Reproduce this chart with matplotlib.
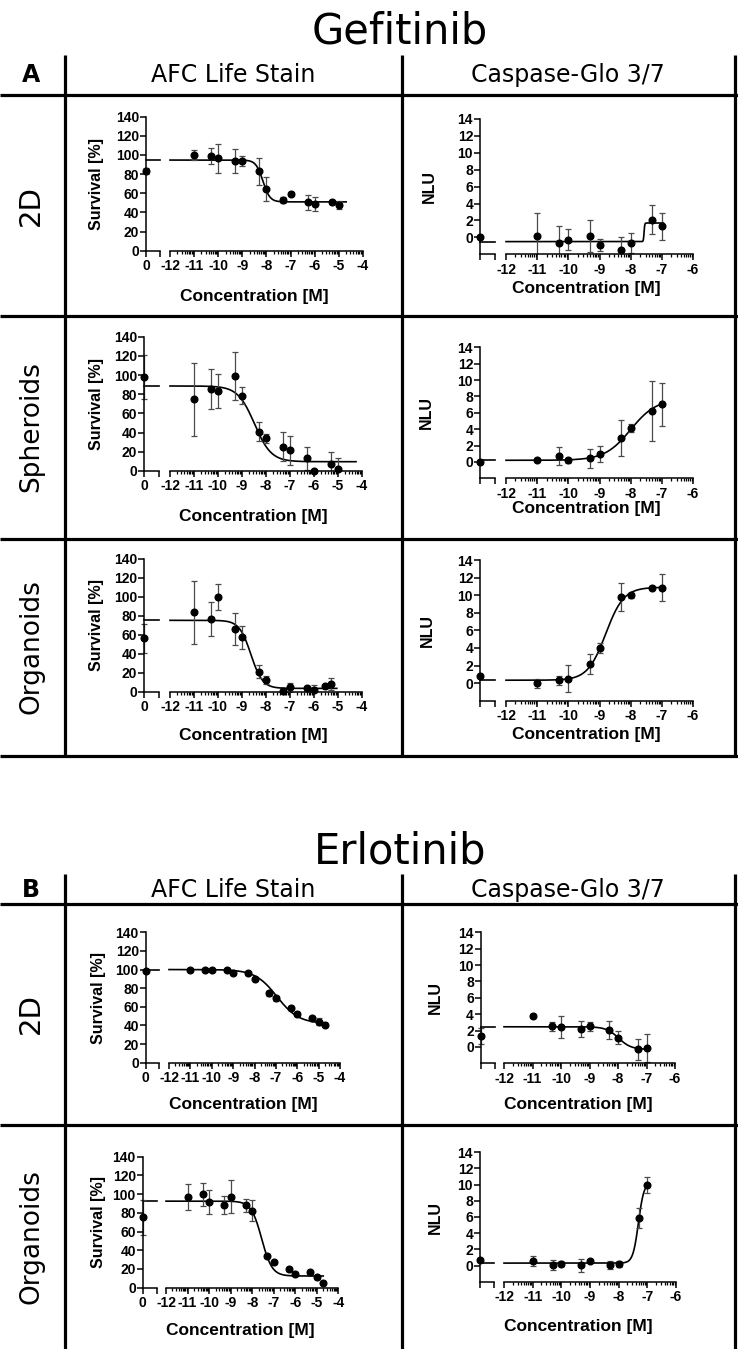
import numpy as np
import matplotlib
matplotlib.use("Agg")
import matplotlib.pyplot as plt
from matplotlib.lines import Line2D

# ---------------- data ----------------
conc_afc = [-11, -10.3, -10, -9.3, -9, -8.3, -8, -7.3, -7, -6.3, -6, -5.3, -5]
conc_afc_org = [-11, -10.3, -10, -9.3, -9, -8.3, -8, -7.3, -7, -6.3, -6, -5.55, -5.3]
conc_afc_erl = [-11, -10.3, -10, -9.3, -9, -8.3, -8, -7.3, -7, -6.3, -6, -5.3, -5, -4.7]
conc_casp = [-11, -10.3, -10, -9.3, -9, -8.3, -8, -7.3, -7]

# Gefitinib AFC Life Stain
gef_2d_afc_y = [100, 99, 96.5, 93.7, 93.7, 83, 64, 53, 59, 50.5, 48.8, 51, 47.7]
gef_2d_afc_err = [5, 8, 15, 13, 5, 14, 12.5, 3, 2, 8, 7, 2, 4]
gef_2d_afc_ctrl = [83.6, 3]
gef_2d_afc_fit = [94.7, 51.0, -8.15, 3.0, -4.7]

gef_sph_afc_y = [74.7, 85.4, 83.4, 98.6, 78.5, 41, 34, 25.4, 21.5, 13.2, 0.3, 7.3, 1.7]
gef_sph_afc_err = [38, 21, 18, 25, 9, 10, 5, 15, 15, 12, 0, 12, 12]
gef_sph_afc_ctrl = [97.6, 23]
gef_sph_afc_fit = [88.6, 9.7, -8.48, 1.25, -4.25]

gef_org_afc_y = [83.7, 76.7, 100, 66, 57.3, 21, 12.3, 1, 4.6, 3.5, 2, 6, 8]
gef_org_afc_err = [33, 18, 14, 17, 12, 7, 4, 1, 5, 3, 5, 1, 6]
gef_org_afc_ctrl = [56.3, 15]
gef_org_afc_fit = [75.3, 3.5, -8.63, 1.8, -5.05]

# Gefitinib Caspase-Glo 3/7
gef_2d_casp_y = [0.2, -0.67, -0.28, 0.12, -0.94, -1.45, -0.67, 2.08, 1.3]
gef_2d_casp_err = [2.7, 2.0, 1.25, 1.9, 0.7, 1.5, 1.2, 1.7, 1.6]
gef_2d_casp_ctrl = [0.0, 0]
gef_2d_casp_fit = [-0.5, 1.7, -7.57, 40.0, -6.95]

gef_sph_casp_y = [0.24, 0.77, 0.2, 0.45, 0.98, 2.93, 4.1, 6.2, 7.04]
gef_sph_casp_err = [0.1, 1.1, 0.3, 1.15, 1.0, 2.25, 0.5, 3.7, 2.65]
gef_sph_casp_ctrl = [0.0, 0.2]
gef_sph_casp_fit = [0.2, 7.7, -8.0, 1.05, -6.95]

gef_org_casp_y = [0.0, 0.3, 0.5, 2.16, 3.97, 9.84, 10.0, 10.86, 10.86]
gef_org_casp_err = [0.5, 0.5, 1.55, 1.1, 0.55, 1.6, 0.3, 0.15, 1.5]
gef_org_casp_ctrl = [0.83, 0]
gef_org_casp_fit = [0.33, 10.9, -8.8, 1.5, -6.95]

# Erlotinib AFC Life Stain
erl_2d_afc_y = [99.5, 99.5, 99.5, 99.5, 96.7, 96, 90.2, 74.5, 69.1, 58.4, 52.3, 47.6, 44, 40.5]
erl_2d_afc_err = [1, 1, 1, 1, 1.5, 1.5, 1.5, 3, 3, 2, 2, 3, 4, 1.5]
erl_2d_afc_ctrl = [98.8, 0]
erl_2d_afc_fit = [100, 42, -6.95, 0.85, -4.62]

erl_org_afc_y = [97.3, 99.8, 91.3, 88.3, 97.3, 88, 82.3, 34.2, 27, 19.6, 14.6, 16.4, 11, 5.3]
erl_org_afc_err = [14, 12, 13, 9.5, 17.5, 7, 11, 1.5, 1.5, 1.5, 1.5, 1.5, 2, 1.5]
erl_org_afc_ctrl = [75.2, 19]
erl_org_afc_fit = [92.5, 12.5, -7.56, 1.8, -4.7]

# Erlotinib Caspase-Glo 3/7
erl_2d_casp_y = [3.8, 2.5, 2.38, 2.18, 2.5, 2.1, 1.15, -0.29, -0.16]
erl_2d_casp_err = [0.2, 0.6, 1.35, 1.0, 0.6, 1.1, 0.8, 1.3, 1.7]
erl_2d_casp_ctrl = [1.35, 1.0]
erl_2d_casp_fit = [2.46, -0.3, -7.98, 2.0, -7.0]

erl_org_casp_y = [0.54, 0.04, 0.2, 0.04, 0.62, 0.12, 0.2, 5.88, 9.94]
erl_org_casp_err = [0.6, 0.6, 0.3, 0.8, 0.1, 0.5, 0.4, 1.2, 0.95]
erl_org_casp_ctrl = [0.7, 0]
erl_org_casp_fit = [0.3, 10.3, -7.31, 4.5, -7.0]

# ---------------- figure ----------------
W, H = 738, 1349
fig = plt.figure(figsize=(W / 100, H / 100), dpi=100)
fig.patch.set_facecolor("white")

TICKFONT = dict(family="Liberation Sans", weight="bold", size=10)
LABFONT = dict(family="Liberation Sans", weight="bold")
HEADFONT = "DejaVu Sans"


def px_ax(l, r, t, b):
    ax = fig.add_axes([l / W, 1 - b / H, (r - l) / W, (b - t) / H])
    ax.patch.set_visible(False)
    return ax


def T(x, y, s, **kw):
    fig.text(x / W, 1 - y / H, s, ha="center", va="center", **kw)


def L(x0, y0, x1, y1, lw=2.3):
    fig.add_artist(Line2D([x0 / W, x1 / W], [1 - y0 / H, 1 - y1 / H],
                          transform=fig.transFigure, color="black", lw=lw,
                          solid_capstyle="butt"))


def logistic(xx, p):
    left, right, c, h = p[:4]
    return left + (right - left) / (1 + np.power(10.0, (c - xx) * h))


def panel(kind, yax, lend, mstart, mend, ytop, ybot, xs, ys, errs, ctrl, fit,
          xlab_y, ylab_x):
    if kind == "afc":
        ylim = (0, 140); yticks = list(range(0, 141, 20)); xlim = (-12, -4)
        ylabel = "Survival [%]"; ctrl_lab = "0"; ylab_size = 11.5
    else:
        ylim = (-2, 14); yticks = list(range(0, 15, 2)); xlim = (-12, -6)
        ylabel = "NLU"; ctrl_lab = ""; ylab_size = 11.5
    xticks = list(range(xlim[0], xlim[1] + 1))
    minors = [d + m for d in range(xlim[0], xlim[1]) for m in np.log10(np.arange(2, 10))]

    ax0 = px_ax(yax, lend, ytop, ybot)
    ax1 = px_ax(mstart, mend, ytop, ybot)
    for ax in (ax0, ax1):
        ax.set_ylim(*ylim)
        for s in ("top", "right"):
            ax.spines[s].set_visible(False)
        for s in ("left", "bottom"):
            ax.spines[s].set_linewidth(1.1)
        ax.tick_params(which="major", direction="out", length=4, width=1.1, pad=2)
        ax.tick_params(which="minor", direction="out", length=2, width=0.9)
    ax0.set_xlim(0, 1)
    ax0.set_xticks([0, 1])
    ax0.set_xticklabels([ctrl_lab, ""], fontdict=TICKFONT)
    ax0.set_yticks(yticks)
    ax0.set_yticklabels([str(v) for v in yticks], fontdict=TICKFONT)
    ax0.tick_params(axis="y", pad=1)

    ax1.spines["left"].set_visible(False)
    ax1.set_yticks([])
    ax1.set_xlim(*xlim)
    ax1.set_xticks(xticks)
    ax1.set_xticklabels([str(v) for v in xticks], fontdict=TICKFONT)
    ax1.set_xticks(minors, minor=True)

    # fit
    left_val = logistic(np.array([xlim[0]]), fit)[0]
    ax0.plot([0, 1], [left_val, left_val], color="black", lw=1.2, clip_on=False)
    xx = np.linspace(xlim[0], fit[4], 1500)
    ax1.plot(xx, logistic(xx, fit), color="black", lw=1.2, clip_on=False)

    # data
    ecol = "#4a4a4a"
    if ctrl[1] > 0:
        ax0.errorbar([0], [ctrl[0]], yerr=[ctrl[1]], fmt="none", ecolor=ecol,
                     elinewidth=0.9, capsize=2.4, capthick=0.9, clip_on=False)
    ax0.plot([0], [ctrl[0]], "o", color="black", ms=4.8, clip_on=False, zorder=5)
    ax1.errorbar(xs, ys, yerr=errs, fmt="none", ecolor=ecol, elinewidth=0.9,
                 capsize=2.4, capthick=0.9)
    ax1.plot(xs, ys, "o", color="black", ms=4.8, clip_on=False, zorder=5,
             linestyle="none")

    # labels
    T((yax + mend) / 2, xlab_y, "Concentration [M]", size=12.5, **LABFONT)
    T(ylab_x, (ytop + ybot) / 2, ylabel, rotation=90, size=ylab_size, **LABFONT)


# ---------------- tables ----------------
# Gefitinib
T(400, 32, "Gefitinib", size=30, family=HEADFONT)
for y in (95, 316, 539, 756):
    L(0, y, W, y)
for x in (65, 402, 735):
    L(x, 55, x, 756)
T(31, 75, "A", size=17, weight="bold", family=HEADFONT)
T(233, 75, "AFC Life Stain", size=17, family=HEADFONT)
T(568, 75, "Caspase-Glo 3/7", size=17, family=HEADFONT)
T(31, 205, "2D", size=21, rotation=90, family=HEADFONT)
T(31, 427, "Spheroids", size=19, rotation=90, family=HEADFONT)
T(31, 647, "Organoids", size=19, rotation=90, family=HEADFONT)

# Erlotinib
T(400, 852, "Erlotinib", size=30, family=HEADFONT)
for y in (904, 1125):
    L(0, y, W, y)
for x in (65, 402, 735):
    L(x, 874, x, H)
T(31, 890, "B", size=17, weight="bold", family=HEADFONT)
T(233, 890, "AFC Life Stain", size=17, family=HEADFONT)
T(568, 890, "Caspase-Glo 3/7", size=17, family=HEADFONT)
T(31, 1014, "2D", size=21, rotation=90, family=HEADFONT)
T(31, 1237, "Organoids", size=19, rotation=90, family=HEADFONT)

# ---------------- panels ----------------
panel("afc", 146, 160, 170, 363, 116.7, 250.7, conc_afc, gef_2d_afc_y,
      gef_2d_afc_err, gef_2d_afc_ctrl, gef_2d_afc_fit, 297, 96)
panel("afc", 144, 159, 170, 362, 336.7, 471, conc_afc, gef_sph_afc_y,
      gef_sph_afc_err, gef_sph_afc_ctrl, gef_sph_afc_fit, 517, 97)
panel("afc", 144, 159, 170, 362, 559, 691.7, conc_afc_org, gef_org_afc_y,
      gef_org_afc_err, gef_org_afc_ctrl, gef_org_afc_fit, 736, 97)

panel("casp", 480, 495, 506, 693, 119, 254.3, conc_casp, gef_2d_casp_y,
      gef_2d_casp_err, gef_2d_casp_ctrl, gef_2d_casp_fit, 288, 429)
panel("casp", 480, 495, 506, 693, 347.3, 478.3, conc_casp, gef_sph_casp_y,
      gef_sph_casp_err, gef_sph_casp_ctrl, gef_sph_casp_fit, 509, 426)
panel("casp", 480, 495, 506, 693, 560, 700.7, conc_casp, gef_org_casp_y,
      gef_org_casp_err, gef_org_casp_ctrl, gef_org_casp_fit, 734, 427)

panel("afc", 145.7, 159, 169, 340, 932.3, 1062.7, conc_afc_erl, erl_2d_afc_y,
      erl_2d_afc_err, erl_2d_afc_ctrl, erl_2d_afc_fit, 1105, 99)
panel("afc", 142.7, 156.7, 166, 338.3, 1156.7, 1287.7, conc_afc_erl, erl_org_afc_y,
      erl_org_afc_err, erl_org_afc_ctrl, erl_org_afc_fit, 1330, 99)

panel("casp", 480.7, 495, 504, 675, 932.3, 1063.3, conc_casp, erl_2d_casp_y,
      erl_2d_casp_err, erl_2d_casp_ctrl, erl_2d_casp_fit, 1105, 435)
panel("casp", 480, 494.3, 504, 676, 1152.3, 1281.7, conc_casp, erl_org_casp_y,
      erl_org_casp_err, erl_org_casp_ctrl, erl_org_casp_fit, 1326, 435)

fig.savefig("out.png", dpi=100, facecolor="white")
